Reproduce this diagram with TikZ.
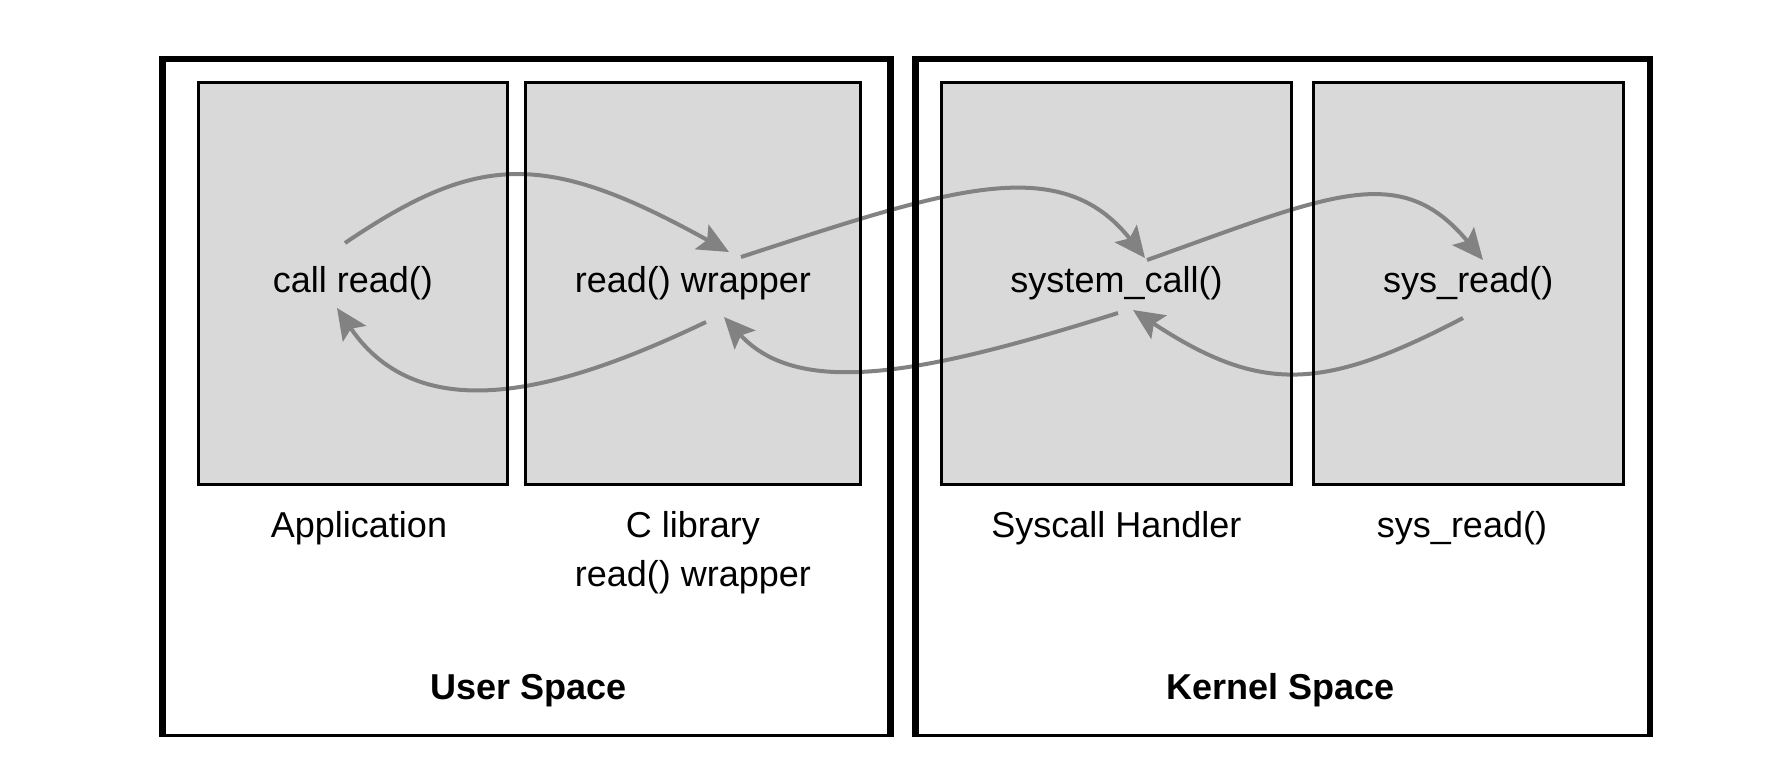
\documentclass[tikz,border=0pt]{standalone}
\usepackage{fontspec}
\setmainfont{Liberation Sans}
\usetikzlibrary{arrows.meta}
\definecolor{boxgray}{RGB}{217,217,217}
\definecolor{arrowgray}{RGB}{130,130,130}
\begin{document}
\begin{tikzpicture}[x=0.5pt,y=-0.5pt,
  every node/.style={font=\fontsize{18pt}{21pt}\selectfont},
  panel/.style={inner sep=0pt, outer sep=0pt, fill=boxgray, draw=none},
  space/.style={inner sep=0pt, outer sep=0pt, draw=none},
  txt/.style={inner sep=0pt, anchor=base},
  boxline/.style={draw=black, line width=1.5pt},
  thickline/.style={draw=black, line width=3.25pt, line join=miter},
  flow/.style={draw=arrowgray, line width=2pt, -{Stealth[length=15.5pt,width=14pt,inset=3pt]}}
]
\useasboundingbox[fill=white] (0,0) rectangle (1790,778);

% outer spaces
\node[space, minimum width=364pt, minimum height=338.25pt] (user) at (526.5,397.25) {};
\node[space, minimum width=367.25pt, minimum height=338.25pt] (kernel) at (1282.75,397.25) {};

% grey panels
\node[panel, minimum width=154.5pt, minimum height=201pt] (app) at (353,283.5) {};
\node[panel, minimum width=167.5pt, minimum height=201pt] (clib) at (693,283.5) {};
\node[panel, minimum width=175pt, minimum height=201pt] (sch) at (1116.5,283.5) {};
\node[panel, minimum width=154.75pt, minimum height=201pt] (sysr) at (1468.25,283.5) {};

% arrow end points
\coordinate (a1s) at (345,243);  \coordinate (a1e) at (729,252);
\coordinate (a2s) at (706,322);  \coordinate (a2e) at (337,308);
\coordinate (a3s) at (741,257);  \coordinate (a3e) at (1145,258);
\coordinate (a4s) at (1118,313); \coordinate (a4e) at (724,317);
\coordinate (a5s) at (1147,260); \coordinate (a5e) at (1483,260);
\coordinate (a6s) at (1463,318); \coordinate (a6e) at (1133,310);

\draw[flow] (a1s) .. controls (478,153) and (545,150) .. (a1e);
\draw[flow] (a2s) .. controls (560,392) and (420,430) .. (a2e);
\draw[flow] (a3s) .. controls (947,190) and (1060,150) .. (a3e);
\draw[flow] (a4s) .. controls (930,372) and (800,400) .. (a4e);
\draw[flow] (a5s) .. controls (1330,195) and (1400,160) .. (a5e);
\draw[flow] (a6s) .. controls (1325,390) and (1262,395) .. (a6e);

% panel borders
\foreach \p in {app,clib,sch,sysr}
  \draw[boxline] (\p.south west) rectangle (\p.north east);

% outer borders
\foreach \p in {user,kernel}{
  \draw[thickline] ([yshift=-0.75pt]\p.south west) -- (\p.north west) -- (\p.north east) -- ([yshift=-0.75pt]\p.south east);
  \draw[boxline] ([xshift=-1.625pt]\p.south west) -- ([xshift=1.625pt]\p.south east);
}

% texts inside panels
\node[txt] (t1) at (353,292) {call read()};
\node[txt] (t2) at (693,292) {read() wrapper};
\node[txt] (t3) at (1116.5,292) {system\_call()};
\node[txt] (t4) at (1468.25,292) {sys\_read()};

% labels
\node[txt] (l1) at (359,537) {Application};
\node[txt] (l2) at (693,537) {C library};
\node[txt] (l2b) at (693,586) {read() wrapper};
\node[txt] (l3) at (1116.5,537) {Syscall Handler};
\node[txt] (l4) at (1462,537) {sys\_read()};
\node[txt, font=\fontsize{18pt}{21pt}\selectfont\bfseries] (us) at (529,699) {User Space};
\node[txt, font=\fontsize{18pt}{21pt}\selectfont\bfseries] (ks) at (1281,699) {Kernel Space};
\end{tikzpicture}
\end{document}
